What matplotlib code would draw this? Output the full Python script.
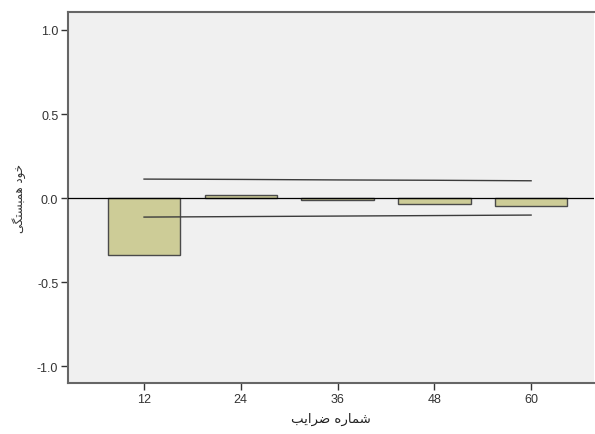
import matplotlib
matplotlib.use("Agg")
import matplotlib.pyplot as plt

plt.rcParams['font.family'] = ['Liberation Sans', 'DejaVu Sans']
plt.rcParams['axes.unicode_minus'] = False

# seasonal lags and their autocorrelation coefficients
lags = [12, 24, 36, 48, 60]
acf = [-0.34, 0.02, -0.014, -0.038, -0.05]
upper_limit = [0.113, 0.111, 0.108, 0.106, 0.103]
lower_limit = [-0.113, -0.110, -0.107, -0.104, -0.101]
y_ticks = [1.0, 0.5, 0.0, -0.5, -1.0]

# Persian labels, written in presentation forms (visual order) so they render joined
x_label = '\ufe90\ufef3\ufe8d\ufeae\ufebf \ufee9\ufead\ufe8e\ufee4\ufeb7'   # شماره ضرایب
y_label = '\ufef0\ufb95\ufe98\ufeb4\ufe92\ufee4\ufeeb \ufea9\ufeee\ufea7'   # خود همبستگی

fig = plt.figure(figsize=(5.95, 4.35), dpi=100)
ax = fig.add_axes([68 / 595, 1 - 384 / 435, (594 - 68) / 595, (384 - 13) / 435])
ax.set_facecolor('#f0f0f0')

ax.bar(lags, acf, width=9, color='#cdcc97', edgecolor='#4a4a4a', linewidth=1.0, zorder=2)
ax.axhline(0, color='black', linewidth=0.9, zorder=3)
ax.plot(lags, upper_limit, color='#3c3c3c', linewidth=1.0, zorder=3)
ax.plot(lags, lower_limit, color='#3c3c3c', linewidth=1.0, zorder=3)

ax.set_xlim(2.57, 67.8)
ax.set_ylim(-1.1, 1.107)
ax.set_xticks(lags)
ax.set_xticklabels([str(l) for l in lags])
ax.set_yticks(y_ticks)
ax.set_yticklabels(['%.1f' % v for v in y_ticks])
ax.tick_params(direction='out', length=5, width=1, color='#333333',
               labelsize=9, labelcolor='#333333', pad=2)

for side in ['left', 'top', 'bottom']:
    ax.spines[side].set_color('#666666')
    ax.spines[side].set_linewidth(1.5)
ax.spines['right'].set_visible(False)

ax.set_xlabel(x_label, fontsize=9.5, color='#222222', family=['DejaVu Sans'], labelpad=5)
ax.set_ylabel(y_label, fontsize=8.5, color='#333333', family=['DejaVu Sans'], labelpad=8)

fig.savefig('out.png', dpi=100, facecolor='white')
